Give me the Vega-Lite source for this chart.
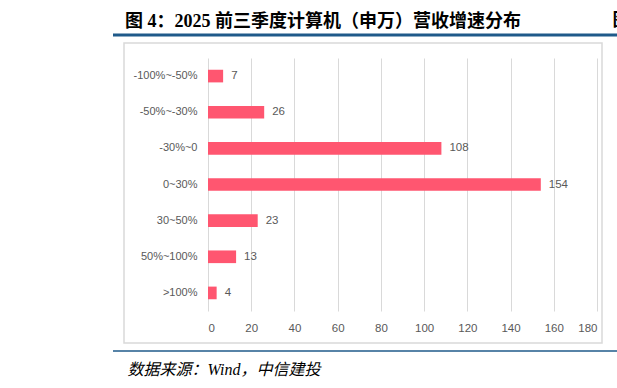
{
  "$schema": "https://vega.github.io/schema/vega-lite/v6.json",
  "width": 389,
  "height": 253,
  "autosize": {"type": "none"},
  "padding": {"left": 208, "top": 58, "right": 20, "bottom": 77},
  "background": "white",
  "config": {"view": {"stroke": null}},
  "title": {
    "text": "图 4：2025 前三季度计算机（申万）营收增速分布",
    "anchor": "start",
    "frame": "group",
    "dx": -83,
    "dy": 42.5,
    "offset": 8.5,
    "baseline": "alphabetic",
    "font": "Liberation Serif, Noto Sans CJK SC",
    "fontSize": 18,
    "fontWeight": "bold",
    "color": "#000000"
  },
  "layer": [
    {
      "data": {"values": [{}]},
      "mark": {"type": "rect", "fill": "transparent", "stroke": "#D9D9D9", "strokeWidth": 1.5},
      "encoding": {
        "x": {"value": -84},
        "x2": {"value": 394},
        "y": {"value": -15},
        "y2": {"value": 285}
      }
    },
    {
      "data": {"values": [{}]},
      "mark": {"type": "rule", "stroke": "#1F5A8A", "strokeWidth": 3},
      "encoding": {
        "x": {"value": -95},
        "x2": {"value": 409},
        "y": {"value": -23}
      }
    },
    {
      "data": {"values": [{}]},
      "mark": {"type": "rule", "stroke": "#1F5A8A", "strokeWidth": 1.5},
      "encoding": {
        "x": {"value": -95},
        "x2": {"value": 409},
        "y": {"value": 293}
      }
    },
    {
      "data": {
        "values": [
          {"range": "-100%~-50%", "count": 7},
          {"range": "-50%~-30%", "count": 26},
          {"range": "-30%~0", "count": 108},
          {"range": "0~30%", "count": 154},
          {"range": "30~50%", "count": 23},
          {"range": "50%~100%", "count": 13},
          {"range": ">100%", "count": 4}
        ]
      },
      "encoding": {
        "y": {
          "field": "range",
          "type": "nominal",
          "sort": null,
          "scale": {"paddingInner": 0.65},
          "axis": {
            "title": "图",
            "titleAngle": 0,
            "titleX": 404,
            "titleY": -33,
            "titleAlign": "left",
            "titleBaseline": "alphabetic",
            "titleFont": "Noto Sans CJK SC",
            "titleFontSize": 18,
            "titleFontWeight": "bold",
            "titleColor": "#000000",
            "domain": false,
            "ticks": false,
            "grid": false,
            "labelPadding": 11,
            "labelFont": "Liberation Sans",
            "labelFontSize": 11,
            "labelColor": "#595959"
          }
        },
        "x": {
          "field": "count",
          "type": "quantitative",
          "scale": {"domain": [0, 180], "nice": false},
          "axis": {
            "values": [0, 20, 40, 60, 80, 100, 120, 140, 160, 180],
            "title": "数据来源：Wind，中信建投",
            "titleX": -81,
            "titleY": 63,
            "titleAlign": "left",
            "titleAnchor": "start",
            "titleBaseline": "alphabetic",
            "titleFont": "Liberation Serif, Noto Sans CJK SC",
            "titleFontSize": 16,
            "titleFontStyle": "italic",
            "titleFontWeight": "normal",
            "titleColor": "#000000",
            "domain": false,
            "ticks": false,
            "grid": true,
            "gridColor": "#D9D9D9",
            "gridWidth": 1,
            "labelPadding": 11,
            "labelFont": "Liberation Sans",
            "labelFontSize": 11.5,
            "labelColor": "#595959"
          }
        }
      },
      "layer": [
        {"mark": {"type": "bar", "color": "#FF5670"}},
        {
          "mark": {
            "type": "text",
            "align": "left",
            "baseline": "middle",
            "dx": 8,
            "font": "Liberation Sans",
            "fontSize": 11.5,
            "color": "#595959"
          },
          "encoding": {"text": {"field": "count", "type": "quantitative"}}
        }
      ]
    }
  ]
}
